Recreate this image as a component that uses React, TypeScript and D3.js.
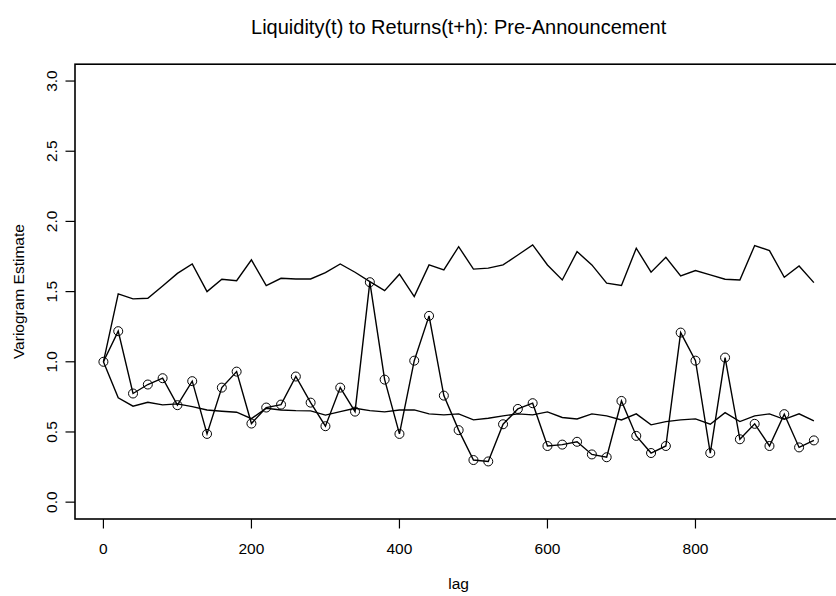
import React from "react";
import * as d3 from "d3";

const lags = [0, 20, 40, 60, 80, 100, 120, 140, 160, 180, 200, 220, 240, 260, 280, 300, 320, 340, 360, 380, 400, 420, 440, 460, 480, 500, 520, 540, 560, 580, 600, 620, 640, 660, 680, 700, 720, 740, 760, 780, 800, 820, 840, 860, 880, 900, 920, 940, 960];

const upperEnvelope = [1.0, 1.484, 1.448, 1.453, 1.54, 1.63, 1.697, 1.5, 1.588, 1.578, 1.726, 1.543, 1.595, 1.59, 1.59, 1.635, 1.697, 1.638, 1.571, 1.507, 1.624, 1.464, 1.69, 1.655, 1.82, 1.66, 1.667, 1.69, 1.761, 1.833, 1.69, 1.583, 1.785, 1.69, 1.56, 1.543, 1.809, 1.638, 1.745, 1.612, 1.65, 1.619, 1.588, 1.583, 1.828, 1.792, 1.602, 1.683, 1.564];

const variogram = [1.0, 1.218, 0.774, 0.838, 0.883, 0.691, 0.862, 0.486, 0.816, 0.93, 0.56, 0.674, 0.695, 0.895, 0.709, 0.541, 0.816, 0.645, 1.567, 0.873, 0.486, 1.008, 1.327, 0.759, 0.513, 0.3, 0.29, 0.555, 0.664, 0.705, 0.4, 0.41, 0.43, 0.34, 0.32, 0.721, 0.472, 0.35, 0.4, 1.208, 1.008, 0.35, 1.03, 0.448, 0.558, 0.4, 0.627, 0.39, 0.44];

const lowerEnvelope = [1.0, 0.743, 0.684, 0.712, 0.693, 0.7, 0.681, 0.657, 0.648, 0.641, 0.595, 0.669, 0.657, 0.652, 0.65, 0.62, 0.645, 0.669, 0.652, 0.643, 0.657, 0.657, 0.629, 0.622, 0.629, 0.586, 0.598, 0.615, 0.629, 0.622, 0.643, 0.603, 0.593, 0.629, 0.615, 0.586, 0.629, 0.551, 0.574, 0.586, 0.593, 0.555, 0.638, 0.574, 0.615, 0.629, 0.59, 0.629, 0.579];

const xTicks = [0, 200, 400, 600, 800];
const yTicks = [0, 0.5, 1.0, 1.5, 2.0, 2.5, 3.0];

const title = "Liquidity(t) to Returns(t+h): Pre-Announcement";
const xLabel = "lag";
const yLabel = "Variogram Estimate";

const W = 836;
const H = 596;
const FONT = "'Liberation Sans', Arial, Helvetica, sans-serif";

export default function App() {
  const left = 75;
  const right = 842.3;
  const top = 64.2;
  const bottom = 519;

  const x = d3.scaleLinear().domain([-38.4, 998.4]).range([left, right]);
  const y = d3.scaleLinear().domain([-0.12, 3.12]).range([bottom, top]);

  const line = d3
    .line<number>()
    .x((_, i) => x(lags[i]))
    .y((d) => y(d));

  const cx = (left + right) / 2;
  const cy = (top + bottom) / 2;

  return (
    <svg
      width={W}
      height={H}
      style={{ position: "absolute", left: 0, top: 0, background: "#fff" }}
      fontFamily={FONT}
    >
      <rect x={0} y={0} width={W} height={H} fill="#fff" />
      <text x={cx} y={34} textAnchor="middle" fontSize={20} fill="#000">
        {title}
      </text>

      <path d={line(upperEnvelope) || ""} fill="none" stroke="#000" strokeWidth={1.4} />
      <path d={line(lowerEnvelope) || ""} fill="none" stroke="#000" strokeWidth={1.4} />
      <path d={line(variogram) || ""} fill="none" stroke="#000" strokeWidth={1.4} />
      {variogram.map((v, i) => (
        <circle key={i} cx={x(lags[i])} cy={y(v)} r={4.5} fill="none" stroke="#000" strokeWidth={1} />
      ))}

      <rect x={left} y={top} width={right - left} height={bottom - top} fill="none" stroke="#000" strokeWidth={1.6} />

      {xTicks.map((t) => (
        <g key={t}>
          <line x1={x(t)} x2={x(t)} y1={bottom} y2={bottom + 9.5} stroke="#000" strokeWidth={1.2} />
          <text x={x(t)} y={554} textAnchor="middle" fontSize={15.5} fill="#000">
            {t}
          </text>
        </g>
      ))}
      {yTicks.map((t) => (
        <g key={t}>
          <line x1={left - 9.5} x2={left} y1={y(t)} y2={y(t)} stroke="#000" strokeWidth={1.2} />
          <text
            transform={`translate(57,${y(t)}) rotate(-90)`}
            textAnchor="middle"
            fontSize={15.5}
            fill="#000"
          >
            {t.toFixed(1)}
          </text>
        </g>
      ))}

      <text x={cx} y={589} textAnchor="middle" fontSize={15.5} fill="#000">
        {xLabel}
      </text>
      <text transform={`translate(24,${cy}) rotate(-90)`} textAnchor="middle" fontSize={15.5} fill="#000">
        {yLabel}
      </text>
    </svg>
  );
}
